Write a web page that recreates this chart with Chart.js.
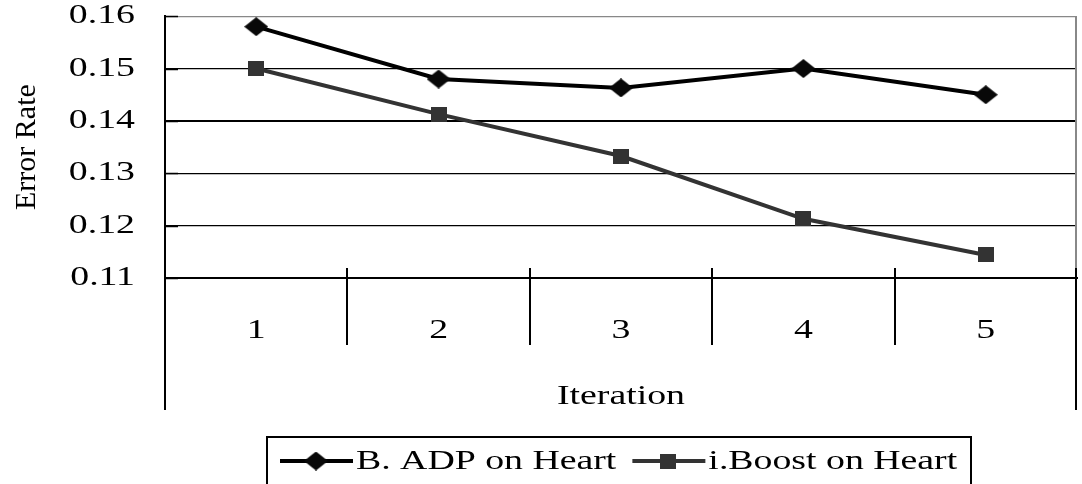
<!DOCTYPE html>
<html>
<head>
<meta charset="utf-8">
<script src="https://cdn.jsdelivr.net/npm/chart.js@4.4.0/dist/chart.umd.min.js"></script>
<style>
  html, body { margin: 0; padding: 0; background: #fff; }
  #wrap { width: 1082px; height: 484px; }
</style>
</head>
<body>
<div id="wrap"><canvas id="errChart" width="1082" height="484"></canvas></div>
<script>
const iterations = ['1', '2', '3', '4', '5'];
const adpHeart = [0.158, 0.148, 0.1463, 0.150, 0.145];
const boostHeart = [0.150, 0.1413, 0.1333, 0.1213, 0.1144];
const yMin = 0.11, yMax = 0.16, yStep = 0.01;

const serif = '"Liberation Serif", "Times New Roman", serif';
const WIDE = 1.4;   // horizontal text is set wide, like the old excel export

const canvas = document.getElementById('errChart');
const c2d = canvas.getContext('2d');
const rawFill = c2d.fillText;
c2d.fillText = function (text, x, y) {
  // rotated text (the value axis title) stays at normal width
  if (this.getTransform().b !== 0) {
    rawFill.call(this, text, x, y);
    return;
  }
  this.save();
  this.translate(x, y);
  this.scale(WIDE, 1);
  rawFill.call(this, text, 0, 0);
  this.restore();
};

// slightly wide markers
function marker(w, h, color, shape) {
  const c = document.createElement('canvas');
  c.width = w;
  c.height = h;
  const g = c.getContext('2d');
  g.fillStyle = color;
  g.beginPath();
  if (shape === 'diamond') {
    g.moveTo(w / 2, 0);
    g.lineTo(w, h / 2);
    g.lineTo(w / 2, h);
    g.lineTo(0, h / 2);
    g.closePath();
  } else {
    g.rect(0, 0, w, h);
  }
  g.fill();
  return c;
}
const diamond = marker(24, 19, '#080808', 'diamond');
const square = marker(16, 15, '#333', 'square');

// category separators, inner ticks, side lines and the legend box
const frame = {
  id: 'frame',
  afterDraw(chart) {
    const { ctx, chartArea: a, scales: { x, y } } = chart;
    const half = (x.getPixelForValue(1) - x.getPixelForValue(0)) / 2;
    const sepBottom = a.bottom + 67;
    const axisBottom = 410;

    ctx.save();
    ctx.strokeStyle = '#888';
    ctx.lineWidth = 2;
    ctx.beginPath();
    ctx.moveTo(a.right - 1, a.top);
    ctx.lineTo(a.right - 1, a.bottom - 10);
    ctx.stroke();

    ctx.strokeStyle = '#000';
    for (let i = 0; i <= iterations.length; i++) {
      const last = i === iterations.length;
      const xx = last ? a.right - 1 : (i === 0 ? a.left : Math.round(x.getPixelForValue(i) - half));
      ctx.beginPath();
      ctx.moveTo(xx, a.bottom - 10);
      ctx.lineTo(xx, (i === 0 || last) ? axisBottom : sepBottom);
      ctx.stroke();
    }
    y.ticks.forEach(t => {
      const py = Math.round(y.getPixelForValue(t.value)) + 0.5;
      ctx.lineWidth = 1.5;
      ctx.beginPath();
      ctx.moveTo(a.left, py);
      ctx.lineTo(a.left + 13, py);
      ctx.stroke();
    });

    // legend
    const boxL = 267, boxT = 437, boxW = 704;
    ctx.lineWidth = 2;
    ctx.strokeRect(boxL, boxT, boxW, 60);
    ctx.font = '27px ' + serif;
    ctx.textBaseline = 'middle';
    ctx.textAlign = 'left';
    let cx = boxL + 13;
    const cy = 461;
    chart.data.datasets.forEach(ds => {
      ctx.strokeStyle = ds.borderColor;
      ctx.lineWidth = 4;
      ctx.beginPath();
      ctx.moveTo(cx, cy);
      ctx.lineTo(cx + 73, cy);
      ctx.stroke();
      Chart.helpers.drawPoint(ctx, { pointStyle: ds.pointStyle, radius: 10, rotation: 0 }, cx + 36, cy);
      ctx.fillStyle = '#000';
      ctx.fillText(ds.label, cx + 76, cy + 1);
      cx += 76 + ctx.measureText(ds.label).width * WIDE + 16;
    });
    ctx.restore();
  }
};

new Chart(canvas, {
  type: 'line',
  data: {
    labels: iterations,
    datasets: [
      {
        label: 'B. ADP on Heart',
        data: adpHeart,
        borderColor: '#000',
        borderWidth: 4,
        pointStyle: diamond,
        pointRadius: 10,
        tension: 0
      },
      {
        label: 'i.Boost on Heart',
        data: boostHeart,
        borderColor: '#333',
        borderWidth: 4,
        pointStyle: square,
        pointRadius: 10,
        tension: 0
      }
    ]
  },
  options: {
    responsive: false,
    animation: false,
    layout: { autoPadding: false, padding: { top: 16, right: 5, left: 0, bottom: 0 } },
    plugins: {
      legend: { display: false },
      tooltip: { enabled: false }
    },
    scales: {
      x: {
        offset: true,
        grid: { display: true, drawOnChartArea: false, drawTicks: true, tickLength: 37, tickColor: 'rgba(0,0,0,0)' },
        border: { display: true, color: '#000', width: 2 },
        ticks: { color: '#000', padding: 0, font: { family: serif, size: 27 } },
        title: {
          display: true,
          text: 'Iteration',
          color: '#000',
          font: { family: serif, size: 27 },
          padding: { top: 0, bottom: 71 }
        },
        afterFit(scale) { scale.height = 206; }
      },
      y: {
        min: yMin,
        max: yMax,
        grid: {
          drawTicks: true,
          tickLength: 30,
          tickColor: 'rgba(0,0,0,0)',
          color: c => (c.index === c.chart.scales.y.ticks.length - 1 ? '#888' : '#000'),
          lineWidth: c => (c.index === 0 ? 0 : (c.index === 3 ? 2 : 1.2))
        },
        border: { display: true, color: '#000', width: 2 },
        ticks: {
          stepSize: yStep,
          color: '#000',
          padding: 0,
          font: { family: serif, size: 27 },
          callback: v => v.toFixed(2)
        },
        title: {
          display: true,
          text: 'Error Rate',
          color: '#000',
          font: { family: serif, size: 30 },
          padding: { top: 9, bottom: 0 }
        },
        afterFit(scale) { scale.width = 165; }
      }
    }
  },
  plugins: [frame]
});
</script>
</body>
</html>
